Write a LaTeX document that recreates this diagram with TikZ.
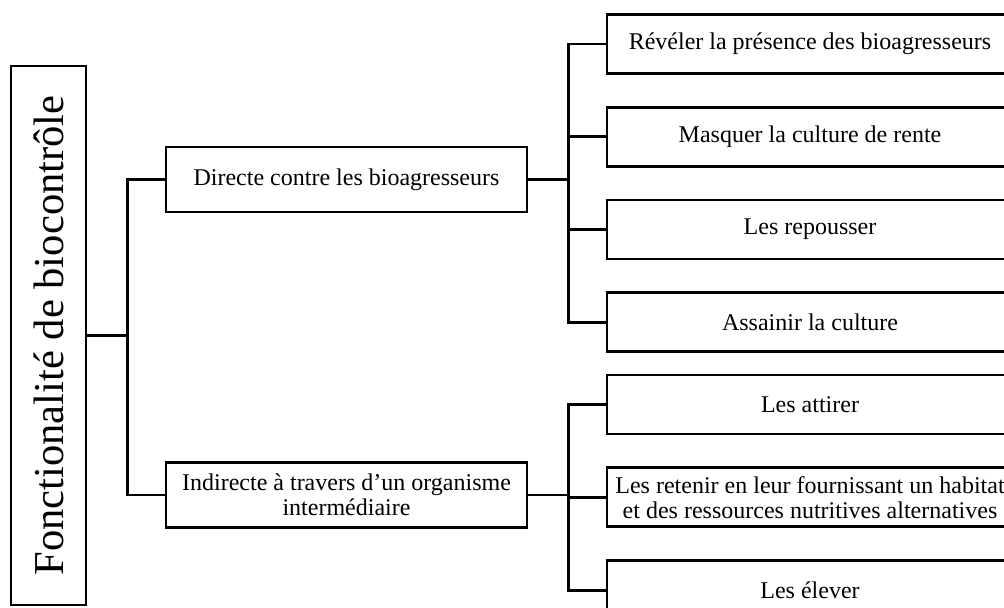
\documentclass[tikz,border=0pt]{standalone}
\usepackage{fontspec}
\usepackage{graphicx}
\setmainfont{Liberation Serif}
\usetikzlibrary{positioning}
\begin{document}
\begin{tikzpicture}[x=0.5pt, y=-0.5pt, line width=1.4pt,
  node distance=15.5pt,
  boite/.style={draw, inner sep=0pt, align=center, font=\fontsize{12}{12.5}\selectfont},
  niveau/.style={boite, minimum width=180.5pt, minimum height=32.5pt},
  feuille/.style={boite, minimum width=203pt, minimum height=29.5pt}]
  % cadre de l'image
  \clip (0,0) rectangle (1004,608);

  % racine
  \node[draw, inner sep=0pt, minimum width=37.5pt, minimum height=269.5pt] (racine) at (48.5,335.5)
    {\rotatebox{90}{\fontsize{21.3}{24}\selectfont Fonctionalité de biocontrôle}};

  % deux modes d'action
  \node[niveau] (directe) at (346.5,179.5) {Directe contre les bioagresseurs};
  \node[niveau] (indirecte) at (346.5,495) {Indirecte à travers d’un organisme\\intermédiaire};

  % feuilles (directe)
  \node[feuille] (reveler) at (810,44) {Révéler la présence des bioagresseurs};
  \node[feuille, below=of reveler] (masquer) {Masquer la culture de rente};
  \node[feuille, below=of masquer] (repousser) {Les repousser};
  \node[feuille, below=of repousser] (assainir) {Assainir la culture};

  % feuilles (indirecte)
  \node[feuille] (attirer) at (810,404.5) {Les attirer};
  \node[feuille, below=of attirer] (retenir) {Les retenir en leur fournissant un habitat\\et des ressources nutritives alternatives};
  \node[feuille, below=of retenir] (elever) {Les élever};

  % liaisons
  \draw (racine.east) -- ++(40,0) coordinate (j0);
  \draw (j0) |- (directe.west);
  \draw (j0) |- (indirecte.west);

  \draw (directe.east) -- ++(40,0) coordinate (j1);
  \foreach \f in {reveler,masquer,repousser,assainir}
    \draw (j1) |- (\f.west);

  \draw (indirecte.east) -- ++(40,0) coordinate (j2);
  \foreach \f in {attirer,retenir,elever}
    \draw (j2) |- (\f.west);
\end{tikzpicture}
\end{document}
